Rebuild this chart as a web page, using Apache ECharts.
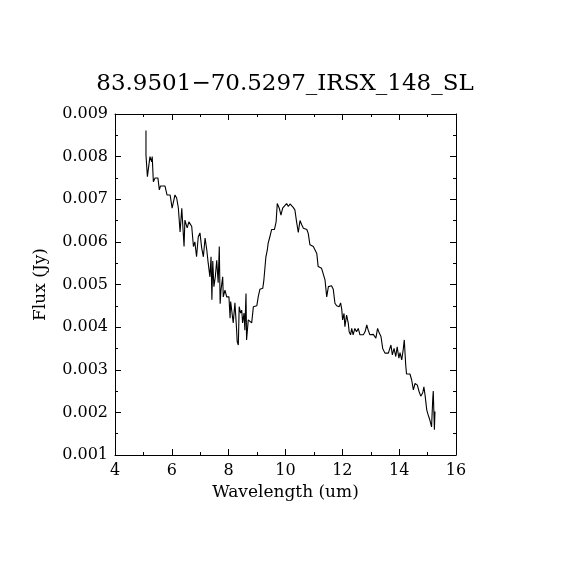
<!DOCTYPE html>
<html>
<head>
<meta charset="utf-8">
<script src="https://cdn.jsdelivr.net/npm/echarts@6/dist/echarts.min.js"></script>
<style>
  html, body { margin: 0; padding: 0; background: #fff; }
  #chart { width: 570px; height: 570px; }
</style>
</head>
<body>
<div id="chart"></div>
<script>
// spectrum
const wavelength = [
  5.09, 5.09, 5.14, 5.23, 5.29, 5.31, 5.35, 5.41, 5.51, 5.56,
  5.60, 5.76, 5.83, 5.94, 6.01, 6.11, 6.17, 6.23, 6.29, 6.35,
  6.43, 6.46, 6.54, 6.60, 6.70, 6.76, 6.81, 6.87, 6.93, 6.99,
  7.05, 7.11, 7.17, 7.23, 7.28, 7.34, 7.38, 7.41, 7.44, 7.48, 7.53,
  7.58, 7.63, 7.67, 7.70, 7.73, 7.79, 7.81, 7.87, 7.93, 8.01, 8.05,
  8.07, 8.16, 8.22, 8.28, 8.30, 8.34, 8.37, 8.42, 8.46, 8.49,
  8.54, 8.57, 8.61, 8.63, 8.69, 8.75, 8.81, 8.87, 8.99, 9.04,
  9.10, 9.20, 9.24, 9.31, 9.36, 9.39, 9.45, 9.51, 9.61, 9.67,
  9.71, 9.78, 9.84, 9.90, 9.96, 10.04, 10.10, 10.16, 10.22, 10.27,
  10.33, 10.39, 10.45, 10.51, 10.57, 10.63, 10.69, 10.75, 10.80, 10.86,
  10.98, 11.04, 11.10, 11.15, 11.27, 11.33, 11.39, 11.45, 11.51, 11.57,
  11.62, 11.68, 11.74, 11.80, 11.89, 11.94, 11.98, 12.01, 12.06, 12.09,
  12.15, 12.21, 12.24, 12.29, 12.33, 12.38, 12.44, 12.50, 12.56, 12.62,
  12.74, 12.80, 12.86, 12.91, 12.97, 13.09, 13.18, 13.24, 13.30, 13.36,
  13.42, 13.50, 13.62, 13.68, 13.71, 13.76, 13.82, 13.88, 13.93, 13.99,
  14.03, 14.09, 14.14, 14.18, 14.23, 14.26, 14.38, 14.44, 14.50, 14.56,
  14.64, 14.70, 14.76, 14.83, 14.87, 14.91, 14.97, 15.02, 15.08, 15.14,
  15.18, 15.20, 15.24, 15.26
];
const flux = [
  0.00861, 0.00804, 0.00753, 0.00800, 0.00788, 0.00800, 0.00741, 0.00750, 0.00750, 0.00722,
  0.00731, 0.00731, 0.00710, 0.00710, 0.00679, 0.00710, 0.00703, 0.00679, 0.00623, 0.00679,
  0.00589, 0.00651, 0.00633, 0.00647, 0.00636, 0.00589, 0.00600, 0.00565, 0.00612, 0.00621,
  0.00586, 0.00565, 0.00609, 0.00581, 0.00550, 0.00518, 0.00565, 0.00464, 0.00555, 0.00495, 0.00518,
  0.00557, 0.00504, 0.00589, 0.00455, 0.00487, 0.00518, 0.00471, 0.00487, 0.00471, 0.00471, 0.00421,
  0.00460, 0.00410, 0.00457, 0.00393, 0.00366, 0.00358, 0.00448, 0.00433, 0.00440, 0.00410,
  0.00433, 0.00393, 0.00479, 0.00370, 0.00417, 0.00419, 0.00410, 0.00448, 0.00450, 0.00471,
  0.00489, 0.00491, 0.00511, 0.00565, 0.00581, 0.00597, 0.00612, 0.00629, 0.00629, 0.00647,
  0.00690, 0.00679, 0.00663, 0.00679, 0.00684, 0.00690, 0.00683, 0.00689, 0.00690, 0.00681,
  0.00675, 0.00647, 0.00622, 0.00650, 0.00640, 0.00632, 0.00628, 0.00629, 0.00620, 0.00593,
  0.00589, 0.00585, 0.00573, 0.00542, 0.00538, 0.00534, 0.00511, 0.00471, 0.00495, 0.00499,
  0.00497, 0.00489, 0.00456, 0.00450, 0.00448, 0.00457, 0.00441, 0.00417, 0.00432, 0.00401,
  0.00428, 0.00409, 0.00389, 0.00382, 0.00397, 0.00382, 0.00397, 0.00389, 0.00397, 0.00382,
  0.00382, 0.00389, 0.00405, 0.00393, 0.00382, 0.00383, 0.00374, 0.00397, 0.00386, 0.00378,
  0.00350, 0.00339, 0.00339, 0.00335, 0.00358, 0.00335, 0.00350, 0.00331, 0.00354, 0.00327,
  0.00340, 0.00323, 0.00346, 0.00370, 0.00311, 0.00290, 0.00290, 0.00276, 0.00253, 0.00268,
  0.00264, 0.00249, 0.00238, 0.00246, 0.00260, 0.00241, 0.00206, 0.00194, 0.00182, 0.00166,
  0.00229, 0.00250, 0.00159, 0.00202
];
const titleText = '83.9501\u221270.5297_IRSX_148_SL';

const font = 'DejaVu Serif';
const chart = echarts.init(document.getElementById('chart'), null, { renderer: 'canvas' });

const axisCommon = {
  axisLine: { show: true, lineStyle: { color: '#000', width: 1 } },
  axisTick: { show: true, inside: true, length: 6, lineStyle: { color: '#000', width: 1 } },
  minorTick: { show: true, splitNumber: 2, length: 3, lineStyle: { color: '#000', width: 1 } },
  splitLine: { show: false }
};

chart.setOption({
  animation: false,
  backgroundColor: '#fff',
  title: {
    text: titleText,
    left: 'center',
    top: 68,
    textStyle: { fontFamily: font, fontSize: 23, fontWeight: 'normal', color: '#000' }
  },
  grid: { left: 115, right: 114, top: 114, bottom: 115 },
  xAxis: [
    Object.assign({}, axisCommon, {
      type: 'value', min: 4, max: 16, interval: 2, position: 'bottom',
      name: 'Wavelength (um)', nameLocation: 'middle', nameGap: 29,
      nameTextStyle: { fontFamily: font, fontSize: 17, color: '#000' },
      axisLabel: { fontFamily: font, fontSize: 16, color: '#000', margin: 8 }
    }),
    Object.assign({}, axisCommon, {
      type: 'value', min: 4, max: 16, interval: 2, position: 'top',
      axisLabel: { show: false }
    })
  ],
  yAxis: [
    Object.assign({}, axisCommon, {
      type: 'value', min: 0.001, max: 0.009, interval: 0.001, position: 'left',
      name: 'Flux (Jy)', nameLocation: 'middle', nameGap: 66,
      nameTextStyle: { fontFamily: font, fontSize: 17, color: '#000' },
      axisLabel: {
        fontFamily: font, fontSize: 16, color: '#000', margin: 7,
        formatter: v => v.toFixed(3)
      }
    }),
    Object.assign({}, axisCommon, {
      type: 'value', min: 0.001, max: 0.009, interval: 0.001, position: 'right',
      axisLabel: { show: false }
    })
  ],
  series: [{
    type: 'line',
    data: wavelength.map((w, i) => [w, flux[i]]),
    showSymbol: false,
    lineStyle: { color: '#000', width: 1.1 },
    silent: true
  }]
});
</script>
</body>
</html>
